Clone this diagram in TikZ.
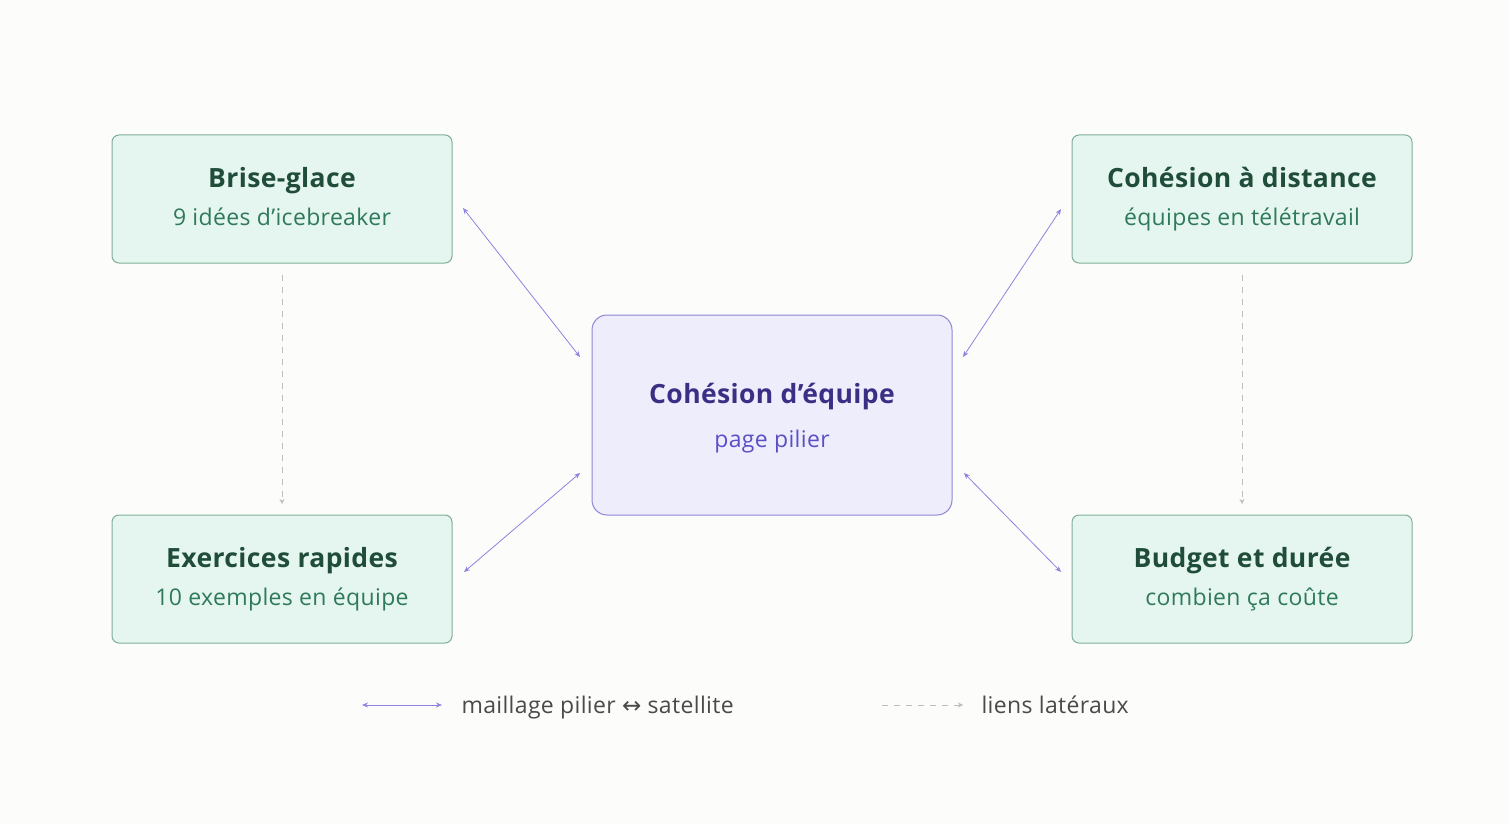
\documentclass[tikz,border=0pt]{standalone}
\usepackage{fontspec}
\setmainfont{Open Sans}[LetterSpace=1.5]
\newfontfamily\symfont{DejaVu Sans}
\usetikzlibrary{arrows.meta}
\definecolor{bg}{HTML}{FCFCFA}
\definecolor{gfill}{HTML}{E5F5EF}
\definecolor{gdraw}{HTML}{7FAF98}
\definecolor{gtitle}{HTML}{1F4D3A}
\definecolor{gsub}{HTML}{2E7A5A}
\definecolor{pfill}{HTML}{EEEDFC}
\definecolor{pdraw}{HTML}{8F86D6}
\definecolor{ptitle}{HTML}{3A2F85}
\definecolor{psub}{HTML}{5B4FC4}
\definecolor{arr}{HTML}{8C84E0}
\definecolor{dash}{HTML}{BDBDBD}
\definecolor{legtext}{HTML}{4A4A4A}
\tikzset{
  sat/.style={draw=gdraw, fill=gfill, line width=1pt, rounded corners=7pt, minimum width=340pt, minimum height=128pt, inner sep=0pt},
  pil/.style={draw=pdraw, fill=pfill, line width=1pt, rounded corners=15pt, minimum width=360pt, minimum height=200pt, inner sep=0pt},
  sattitle/.style={text=gtitle, font=\fontsize{26.5}{30}\selectfont\bfseries, anchor=base},
  satsub/.style={text=gsub, font=\fontsize{23}{26}\selectfont, anchor=base},
  link/.style={draw=arr, line width=0.8pt, {Stealth[length=6pt,width=5pt]}-{Stealth[length=6pt,width=5pt]}},
  lateral/.style={draw=dash, line width=1pt, dash pattern=on 6pt off 6pt, -{Stealth[length=5pt,width=5pt]}},
  legtxt/.style={text=legtext, font=\fontsize{23}{26}\selectfont, anchor=base west},
}
\begin{document}
\begin{tikzpicture}[x=1pt,y=-1pt]
\fill[bg] (0,0) rectangle (1510,824);
\useasboundingbox (0,0) rectangle (1510,824);
% boxes
\node[sat] (bg1) at (282,199) {};
\node[sat] (cd) at (1242,199) {};
\node[sat] (ex) at (282,579) {};
\node[sat] (bu) at (1242,579) {};
\node[pil] (pc) at (772,415) {};
% texts
\node[sattitle] (t1) at (282,187) {Brise-glace};
\node[satsub] (s1) at (282,225) {9 idées d’icebreaker};
\node[sattitle] (t2) at (1242,187) {Cohésion à distance};
\node[satsub] (s2) at (1242,225) {équipes en télétravail};
\node[sattitle] (t3) at (282,567) {Exercices rapides};
\node[satsub] (s3) at (282,605) {10 exemples en équipe};
\node[sattitle] (t4) at (1242,567) {Budget et durée};
\node[satsub] (s4) at (1242,605) {combien ça coûte};
\node[sattitle, text=ptitle] (tp) at (772,403) {Cohésion d’équipe};
\node[satsub, text=psub] (sp) at (772,447) {page pilier};
% link endpoints
\coordinate (a1) at (463,208); \coordinate (b1) at (580,357);
\coordinate (a2) at (1061,209); \coordinate (b2) at (963,357);
\coordinate (a3) at (464,572); \coordinate (b3) at (580,473);
\coordinate (a4) at (1061,572); \coordinate (b4) at (964,473);
\draw[link] (a1) -- (b1);
\draw[link] (a2) -- (b2);
\draw[link] (a3) -- (b3);
\draw[link] (a4) -- (b4);
% lateral links
\coordinate (d1) at (282,275); \coordinate (e1) at (282,504);
\coordinate (d2) at (1242,275); \coordinate (e2) at (1242,504);
\draw[lateral] (d1) -- (e1);
\draw[lateral] (d2) -- (e2);
% legend
\coordinate (l1a) at (362,705); \coordinate (l1b) at (442,705);
\draw[link] (l1a) -- (l1b);
\node[legtxt] (lt1) at (458,713) {maillage pilier {\symfont ↔} satellite};
\coordinate (l2a) at (882,705); \coordinate (l2b) at (963,705);
\draw[lateral] (l2a) -- (l2b);
\node[legtxt] (lt2) at (978,713) {liens latéraux};
\end{tikzpicture}
\end{document}
